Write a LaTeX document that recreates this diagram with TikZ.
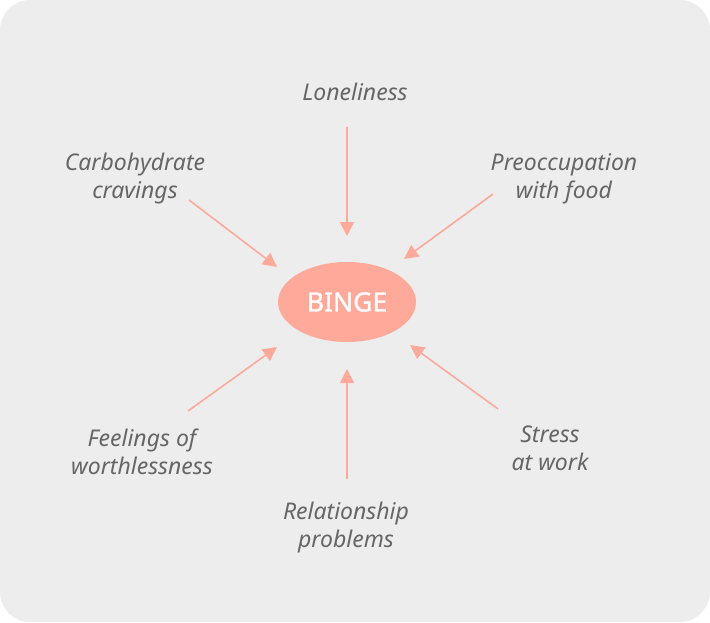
\documentclass[tikz,border=0pt]{standalone}
\usepackage{fontspec}
\setmainfont{Noto Sans}
\newfontfamily\bingefont[FakeBold=1.2]{Noto Sans}
\usetikzlibrary{arrows.meta,shapes.geometric}
\definecolor{bgc}{HTML}{EDEDED}
\definecolor{salmon}{HTML}{FFA99B}
\definecolor{txt}{HTML}{666666}
\tikzset{
  lbl/.style={text=txt, font=\fontsize{23}{28}\selectfont\itshape, align=center, inner sep=0pt},
  conn/.style={draw=salmon, line width=1.6pt, -{Triangle[length=14pt,width=14pt]}}
}
\begin{document}
\begin{tikzpicture}[x=1pt,y=-1pt]
\useasboundingbox (0,0) rectangle (710,622);
\fill[bgc, rounded corners=30pt] (0,0) rectangle (710,622);
\node[ellipse, fill=salmon, minimum width=138pt, minimum height=80pt, inner sep=0pt,
  text=white, font=\bingefont\fontsize{26.5}{28}\selectfont] (binge) at (347,302) {BINGE};
\node[lbl] (lone) at (355,92) {Loneliness};
\node[lbl] (carb) at (135,179) {Carbohydrate\\cravings};
\node[lbl] (preo) at (564,179) {Preoccupation\\with food};
\node[lbl] (feel) at (142,452) {Feelings of\\worthlessness};
\node[lbl] (rel) at (346,528) {Relationship\\problems};
\node[lbl] (stress) at (550,448) {Stress\\at work};
\coordinate (a1) at (347,127); \coordinate (b1) at (347,236);
\coordinate (a2) at (189,200); \coordinate (b2) at (277,267);
\coordinate (a3) at (493,194); \coordinate (b3) at (404,259);
\coordinate (a4) at (188,411); \coordinate (b4) at (277,347);
\coordinate (a5) at (347,479); \coordinate (b5) at (347,369);
\coordinate (a6) at (498,409); \coordinate (b6) at (410,345);
\foreach \i in {1,...,6} { \draw[conn] (a\i) -- (b\i); }
\end{tikzpicture}
\end{document}
